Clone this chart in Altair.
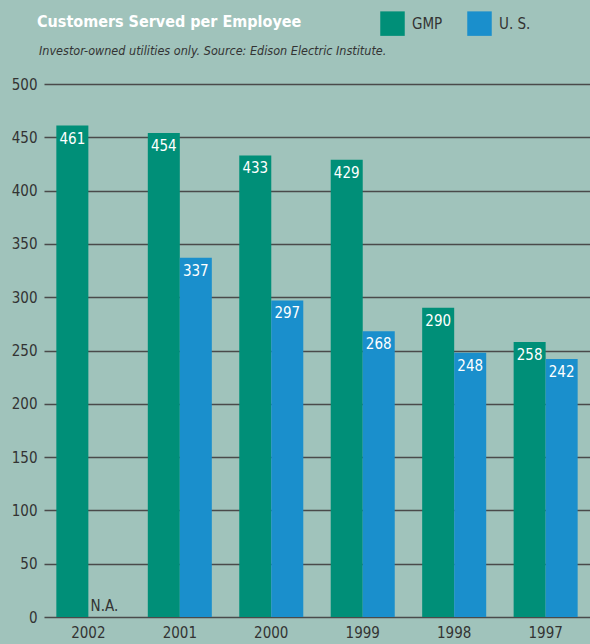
import altair as alt
import pandas as pd

years = ["2002", "2001", "2000", "1999", "1998", "1997"]
gmp = [461, 454, 433, 429, 290, 258]
us = [None, 337, 297, 268, 248, 242]
series = ["GMP", "U. S."]
colors = ["#008f78", "#1a8fcc"]
y_ticks = list(range(0, 501, 50))

title_text = "Customers Served per Employee"
subtitle_text = "Investor-owned utilities only. Source: Edison Electric Institute."
na_text = "N.A."

rows = []
for yr, g, u in zip(years, gmp, us):
    rows.append({"year": yr, "series": "GMP", "value": g})
    rows.append({"year": yr, "series": "U. S.", "value": u})
df = pd.DataFrame(rows)

FONT = "DejaVu Sans Condensed, Liberation Sans Narrow, sans-serif"

x = alt.X(
    "year:N", sort=years,
    scale=alt.Scale(paddingInner=0.3, paddingOuter=0.135),
    axis=alt.Axis(title=None, labelAngle=0, labelFontSize=15, labelColor="#333333",
                  labelFont=FONT, ticks=False, domain=False, labelPadding=8, grid=False),
)
y = alt.Y(
    "value:Q", scale=alt.Scale(domain=[0, 500], nice=False),
    axis=alt.Axis(title=None, values=y_ticks, labelFontSize=15, labelColor="#333333",
                  labelFont=FONT, gridColor="#4a4a4a", gridWidth=1.3, gridOpacity=1,
                  domain=False, ticks=False, labelPadding=7),
)
xo = alt.XOffset("series:N", sort=series, scale=alt.Scale(paddingInner=0, paddingOuter=0))
color = alt.Color(
    "series:N", sort=series,
    scale=alt.Scale(domain=series, range=colors),
    legend=alt.Legend(orient="none", legendX=336, legendY=-73, direction="horizontal",
                      title=None, symbolType="square", symbolSize=600, symbolStrokeWidth=0,
                      labelFontSize=15, labelFont=FONT, labelColor="#333333",
                      columnPadding=24, labelOffset=7, symbolOpacity=1),
)

base = alt.Chart(df)
bars = base.mark_bar().encode(x=x, y=y, xOffset=xo, color=color)
labels = base.transform_filter("datum.value != null").mark_text(
    baseline="top", dy=6, color="white", fontSize=15, font=FONT
).encode(x=x, y=y, xOffset=xo, text="value:Q")

na_df = pd.DataFrame({"year": [years[0]], "series": ["U. S."], "value": [0], "t": [na_text]})
na = alt.Chart(na_df).mark_text(baseline="bottom", dy=-3, color="#333333", fontSize=15, font=FONT).encode(
    x=x, y=y, xOffset=xo, text="t:N"
)

title = alt.Chart(pd.DataFrame({"t": [title_text]})).mark_text(
    align="left", baseline="middle", font=FONT, fontSize=16, fontWeight="bold", color="white"
).encode(text="t:N", x=alt.value(-7), y=alt.value(-62))
subtitle = alt.Chart(pd.DataFrame({"t": [subtitle_text]})).mark_text(
    align="left", baseline="middle", font=FONT, fontSize=12.5, fontStyle="italic", color="#333333"
).encode(text="t:N", x=alt.value(-5), y=alt.value(-33))

chart = alt.layer(bars, labels, na, title, subtitle).properties(
    width=546, height=533,
    autosize=alt.AutoSizeParams(type="none"),
    padding={"left": 44, "top": 84, "right": 0, "bottom": 27},
    background="#a0c3bb",
).configure_view(stroke=None)

chart.save("out.html", embed_options={"renderer": "svg", "actions": False})
